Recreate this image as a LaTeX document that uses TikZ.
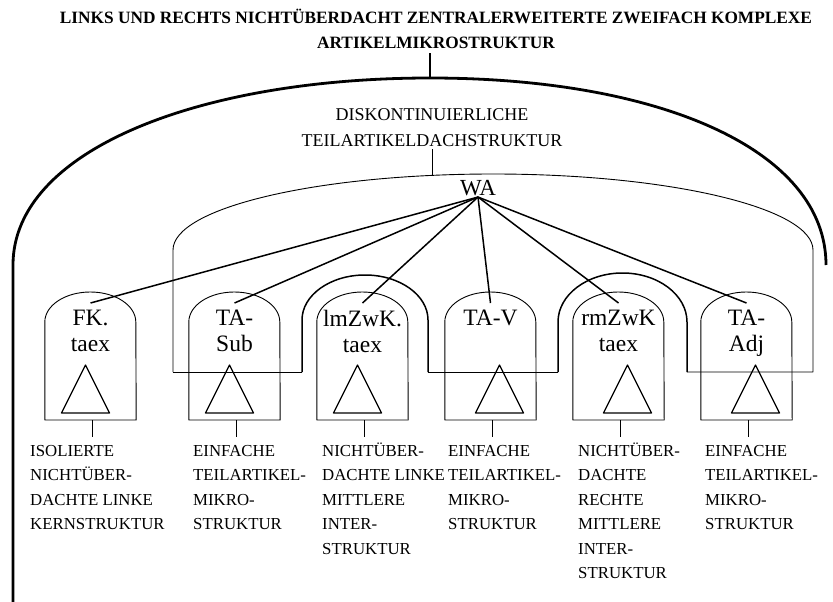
\documentclass[tikz,border=0pt]{standalone}
\usepackage{fontspec}
\setmainfont{Liberation Serif}
\tikzset{
  titel/.style = {align=center, inner sep=4pt, anchor=base,
    font=\bfseries\fontsize{17.3}{25}\selectfont},
  dach/.style = {align=center, inner sep=3pt, anchor=base,
    font=\fontsize{18}{26}\selectfont},
  teil/.style = {align=center, text width=91pt, inner xsep=0pt,
    inner ysep=7pt, anchor=north, font=\fontsize{23.5}{26}\selectfont},
  info/.style = {align=left, inner sep=0pt, anchor=base west,
    font=\fontsize{16.8}{24.5}\selectfont},
  rand/.style = {line width=0.9pt},
  ast/.style = {line width=1.5pt},
  dick/.style = {line width=2.8pt}
}
\newcommand{\bogen}[1]{\draw[rand] (#1.west |- 0,420) -- (#1.west |- 0,322)
  arc[start angle=180, end angle=0, x radius=45.5pt, y radius=30pt]
  -- (#1.east |- 0,420) -- cycle;}
\newcommand{\dreieck}[2]{\draw[line width=1.2pt] ([xshift=#2pt]#1) ++(-24,110)
  -- ++(24,-48) -- ++(24,48) -- cycle;}

\begin{document}
\begin{tikzpicture}[x=1pt, y=-1pt, line join=round]
\useasboundingbox (0,0) rectangle (833,602);
% anchor base = last line
\node[titel] (titel) at (436,49) {LINKS UND RECHTS NICHTÜBERDACHT ZENTRALERWEITERTE ZWEIFACH KOMPLEXE\\ARTIKELMIKROSTRUKTUR};
\coordinate (dachtop) at (430,78);
\draw[dick] (titel.south -| dachtop) -- (dachtop);
\draw[dick] (13,602) -- (13,265) .. controls (13,150) and (200,78) .. (dachtop)
  .. controls (660,78) and (826,150) .. (826,265);

\node[dach] (dach) at (432,146) {DISKONTINUIERLICHE\\TEILARTIKELDACHSTRUKTUR};
\coordinate (dachfuss) at (432,175.4);
\draw[rand] (dach.south -| dachfuss) -- (dachfuss);
\draw[rand] (173,372) -- (173,250)
  arc[start angle=180, end angle=0, x radius=320pt, y radius=76pt]
  -- (813,372) -- (687,372);
\draw[rand] (558,372) -- (428,372);
\draw[rand] (302,372) -- (173,372);
\draw[ast] (302,372) -- (302,320)
  arc[start angle=180, end angle=0, x radius=63pt, y radius=45pt] -- (428,372);
\draw[ast] (558,372) -- (558,322)
  arc[start angle=180, end angle=0, x radius=64.5pt, y radius=49pt] -- (687,372);

\node[font=\fontsize{23}{26}\selectfont, inner sep=1.5pt, anchor=base] (wa) at (478,195) {WA};

\node[teil] (fk) at (90.5,303) {FK.\\taex};
\node[teil] (tasub) at (234.5,303) {TA-\\Sub};
\node[teil] (lmzwk) at (362.5,303) {lmZwK.\\taex};
\node[teil] (tav) at (490.5,303) {TA-V};
\node[teil] (rmzwk) at (618.5,303) {rmZwK\\taex};
\node[teil] (taadj) at (746.5,303) {TA-\\Adj};
\bogen{fk} \bogen{tasub} \bogen{lmzwk} \bogen{tav} \bogen{rmzwk} \bogen{taadj}
\dreieck{fk.north}{-5} \dreieck{tasub.north}{-5} \dreieck{lmzwk.north}{-5}
\dreieck{tav.north}{9} \dreieck{rmzwk.north}{9} \dreieck{taadj.north}{9}

\draw[ast] (wa.south) -- (fk.north);
\draw[ast] (wa.south) -- (tasub.north);
\draw[ast] (wa.south) -- (lmzwk.north);
\draw[ast] (wa.south) -- (tav.north);
\draw[ast] (wa.south) -- (rmzwk.north);
\draw[ast] (wa.south) -- (taadj.north);

\draw[rand] (fk.north |- 0,420) ++(2,0) -- ++(0,17);
\draw[rand] (tasub.north |- 0,420) ++(2,0) -- ++(0,17);
\draw[rand] (lmzwk.north |- 0,420) ++(2,0) -- ++(0,17);
\draw[rand] (tav.north |- 0,420) ++(2,0) -- ++(0,17);
\draw[rand] (rmzwk.north |- 0,420) ++(2,0) -- ++(0,17);
\draw[rand] (taadj.north |- 0,420) ++(2,0) -- ++(0,17);

\node[info] (l-fk) at (30,529.5) {ISOLIERTE\\NICHTÜBER-\\DACHTE LINKE\\KERNSTRUKTUR};
\node[info] (l-tasub) at (193,529.5) {EINFACHE\\TEILARTIKEL-\\MIKRO-\\STRUKTUR};
\node[info] (l-lmzwk) at (322,554) {NICHTÜBER-\\DACHTE LINKE\\MITTLERE\\INTER-\\STRUKTUR};
\node[info] (l-tav) at (448,529.5) {EINFACHE\\TEILARTIKEL-\\MIKRO-\\STRUKTUR};
\node[info] (l-rmzwk) at (578,578.5) {NICHTÜBER-\\DACHTE\\RECHTE\\MITTLERE\\INTER-\\STRUKTUR};
\node[info] (l-taadj) at (705,529.5) {EINFACHE\\TEILARTIKEL-\\MIKRO-\\STRUKTUR};
\end{tikzpicture}
\end{document}
